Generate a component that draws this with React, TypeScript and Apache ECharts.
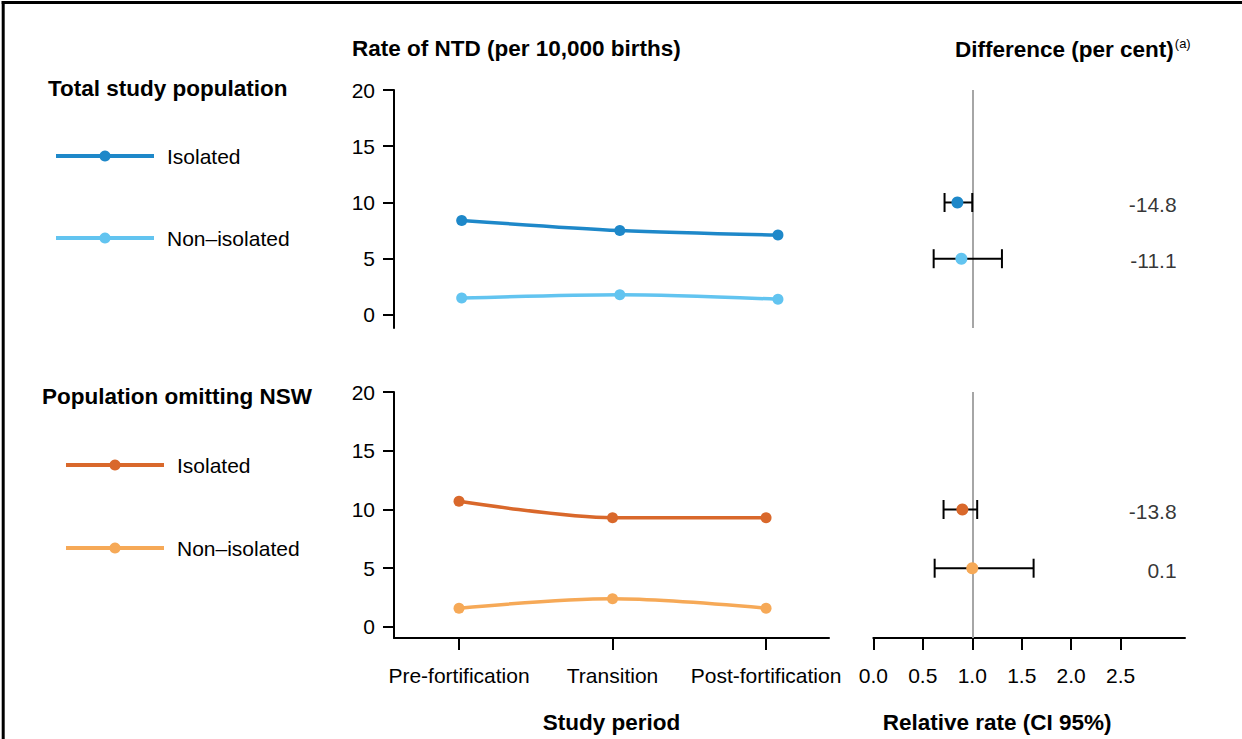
import React, { useEffect, useRef } from "react";
import * as echarts from "echarts";

// ---------- data ----------
const periods = ["Pre-fortification", "Transition", "Post-fortification"];
const periodPos = [1, 2, 3];

const totalIsolated = [8.4, 7.5, 7.1];
const totalNonIsolated = [1.5, 1.8, 1.4];
const nswIsolated = [10.7, 9.3, 9.3];
const nswNonIsolated = [1.6, 2.4, 1.6];

const rateTicks = [0, 5, 10, 15, 20];
const rrTicks = [0, 0.5, 1.0, 1.5, 2.0, 2.5];

// forest rows (isolated, non-isolated), placed on the rate scale
const forestRowLevel = [10, 5];
const totalRR = [0.85, 0.89];
const totalLo = [0.72, 0.61];
const totalHi = [1.0, 1.3];
const totalDiff = ["-14.8", "-11.1"];
const nswRR = [0.9, 1.0];
const nswLo = [0.71, 0.62];
const nswHi = [1.05, 1.62];
const nswDiff = ["-13.8", "0.1"];

const seriesNames = ["Isolated", "Non–isolated"];

// ---------- style ----------
const FONT = "'Liberation Sans', Arial, Helvetica, sans-serif";
const COL = {
  totIso: "#1e88c9",
  totNon: "#62c4f0",
  nswIso: "#d9682b",
  nswNon: "#f6a957",
};

export default function App() {
  const ref = useRef<HTMLDivElement>(null);

  useEffect(() => {
    document.body.style.margin = "0";
    const chart = echarts.init(ref.current!, null, { renderer: "svg" });

    const axisLine = { show: true, onZero: false, lineStyle: { color: "#000", width: 2 } };
    const tickStyle = { color: "#000", width: 2 };
    const labelText = { fontSize: 21, color: "#000", fontFamily: FONT };
    const boldName = { fontSize: 22.5, fontWeight: "bold" as const, color: "#000", fontFamily: FONT };

    const lineSeries = (name: string, xi: number, vals: number[], color: string) => ({
      type: "line",
      name,
      xAxisIndex: xi,
      yAxisIndex: xi,
      data: periodPos.map((x, i) => [x, vals[i]]),
      smooth: 0.3,
      symbol: "circle",
      symbolSize: 11,
      itemStyle: { color, opacity: 1 },
      lineStyle: { color, width: 3.5 },
      z: 3,
    });

    const errorBars = (gi: number, lo: number[], hi: number[]) => ({
      type: "custom",
      xAxisIndex: gi,
      yAxisIndex: gi,
      data: lo.map((l, i) => [l, hi[i], forestRowLevel[i]]),
      encode: { x: [0, 1], y: 2 },
      renderItem: (_p: any, api: any) => {
        const a = api.coord([api.value(0), api.value(2)]);
        const b = api.coord([api.value(1), api.value(2)]);
        const h = 9.5;
        const st = { stroke: "#000", lineWidth: 2 };
        return {
          type: "group",
          children: [
            { type: "line", shape: { x1: a[0], y1: a[1], x2: b[0], y2: b[1] }, style: st },
            { type: "line", shape: { x1: a[0], y1: a[1] - h, x2: a[0], y2: a[1] + h }, style: st },
            { type: "line", shape: { x1: b[0], y1: b[1] - h, x2: b[0], y2: b[1] + h }, style: st },
          ],
        };
      },
      markLine: {
        silent: true,
        symbol: "none",
        label: { show: false },
        lineStyle: { color: "#a6a6a6", width: 2, type: "solid" },
        data: [{ xAxis: 1 }],
        z: 1,
      },
      z: 2,
    });

    const points = (gi: number, rr: number[], colors: string[]) => ({
      type: "scatter",
      xAxisIndex: gi,
      yAxisIndex: gi,
      symbolSize: 12,
      data: rr.map((r, i) => ({
        value: [r, forestRowLevel[i]],
        itemStyle: { color: colors[i], opacity: 1 },
      })),
      z: 5,
    });

    const diffLabels = (gi: number, diffs: string[]) => ({
      type: "scatter",
      xAxisIndex: gi,
      yAxisIndex: gi,
      symbolSize: 1,
      itemStyle: { color: "rgba(0,0,0,0)" },
      data: diffs.map((_d, i) => [3.07, forestRowLevel[i]]),
      label: {
        show: true,
        position: "left",
        distance: 0,
        offset: [0, 2],
        formatter: (p: any) => diffs[p.dataIndex],
        ...labelText,
      },
      z: 4,
    });

    const legendBase = {
      orient: "vertical",
      itemWidth: 98,
      itemHeight: 14,
      padding: 0,
      selectedMode: false,
      formatter: (n: string) => n.split(": ")[1],
      lineStyle: { width: 4 },
      itemStyle: { opacity: 1 },
      textStyle: { ...labelText, lineHeight: 22, padding: [0, 0, 0, 8] },
    };

    const option: any = {
      animation: false,
      backgroundColor: "#fff",
      textStyle: { fontFamily: FONT },
      title: [
        { text: "Rate of NTD (per 10,000 births)", left: 352, top: 37, padding: 0, textStyle: boldName },
        {
          text: "{m|Difference (per cent)}{s|(a)}",
          left: 955,
          top: 37,
          padding: 0,
          textStyle: {
            rich: {
              m: { ...boldName, lineHeight: 24 },
              s: {
                fontSize: 13,
                fontWeight: "normal",
                color: "#000",
                fontFamily: FONT,
                verticalAlign: "top",
                lineHeight: 14,
                padding: [0, 0, 0, 1],
              },
            },
          },
        },
        { text: "Total study population", left: 48, top: 77, padding: 0, textStyle: boldName },
        { text: "Population omitting NSW", left: 42, top: 385, padding: 0, textStyle: boldName },
      ],
      legend: [
        {
          ...legendBase,
          left: 54,
          top: 145,
          itemGap: 60,
          data: seriesNames.map((s) => "Total: " + s),
        },
        {
          ...legendBase,
          left: 64,
          top: 454,
          itemGap: 61,
          data: seriesNames.map((s) => "NSW: " + s),
        },
      ],
      grid: [
        { left: 394, top: 90, width: 448.8, height: 238 },
        { left: 394, top: 392, width: 435, height: 246 },
        { left: 873.3, top: 90, width: 311.7, height: 238 },
        { left: 873.3, top: 392, width: 311.7, height: 246 },
      ],
      xAxis: [
        { gridIndex: 0, type: "value", min: 0.572, max: 3.41, show: false },
        {
          gridIndex: 1,
          type: "value",
          min: 0.5765,
          max: 3.41,
          axisLine,
          axisTick: { show: true, length: 12, lineStyle: tickStyle, customValues: periodPos },
          axisLabel: {
            customValues: periodPos,
            formatter: (v: number) => periods[Math.round(v) - 1],
            margin: 27,
            ...labelText,
          },
          splitLine: { show: false },
          name: "Study period",
          nameLocation: "middle",
          nameGap: 73,
          nameTextStyle: boldName,
        },
        { gridIndex: 2, type: "value", min: 0, max: 3.15, show: false },
        {
          gridIndex: 3,
          type: "value",
          min: 0,
          max: 3.15,
          axisLine,
          axisTick: { show: true, length: 12, lineStyle: tickStyle, customValues: rrTicks },
          axisLabel: {
            customValues: rrTicks,
            formatter: (v: number) => v.toFixed(1),
            margin: 27,
            ...labelText,
          },
          splitLine: { show: false },
          name: "Relative rate (CI 95%)",
          nameLocation: "middle",
          nameGap: 73,
          nameTextStyle: { ...boldName, padding: [0, 64, 0, 0] },
        },
      ],
      yAxis: [
        {
          gridIndex: 0,
          type: "value",
          min: -1.16,
          max: 20,
          axisLine,
          axisTick: { show: true, length: 11, lineStyle: tickStyle, customValues: rateTicks },
          axisLabel: { customValues: rateTicks, margin: 19, ...labelText },
          splitLine: { show: false },
        },
        {
          gridIndex: 1,
          type: "value",
          min: -0.94,
          max: 20,
          axisLine,
          axisTick: { show: true, length: 11, lineStyle: tickStyle, customValues: rateTicks },
          axisLabel: { customValues: rateTicks, margin: 19, ...labelText },
          splitLine: { show: false },
        },
        { gridIndex: 2, type: "value", min: -1.16, max: 20, show: false },
        { gridIndex: 3, type: "value", min: -0.94, max: 20, show: false },
      ],
      graphic: [
        { type: "line", shape: { x1: 3.2, y1: 1, x2: 3.2, y2: 739 }, style: { stroke: "#000", lineWidth: 3 } },
        { type: "line", shape: { x1: 1.7, y1: 2.5, x2: 1242, y2: 2.5 }, style: { stroke: "#000", lineWidth: 3 } },
      ],
      series: [
        lineSeries("Total: " + seriesNames[0], 0, totalIsolated, COL.totIso),
        lineSeries("Total: " + seriesNames[1], 0, totalNonIsolated, COL.totNon),
        lineSeries("NSW: " + seriesNames[0], 1, nswIsolated, COL.nswIso),
        lineSeries("NSW: " + seriesNames[1], 1, nswNonIsolated, COL.nswNon),
        errorBars(2, totalLo, totalHi),
        points(2, totalRR, [COL.totIso, COL.totNon]),
        diffLabels(2, totalDiff),
        errorBars(3, nswLo, nswHi),
        points(3, nswRR, [COL.nswIso, COL.nswNon]),
        diffLabels(3, nswDiff),
      ],
    };

    chart.setOption(option);
    return () => chart.dispose();
  }, []);

  return <div ref={ref} style={{ width: 1242, height: 739 }} />;
}
